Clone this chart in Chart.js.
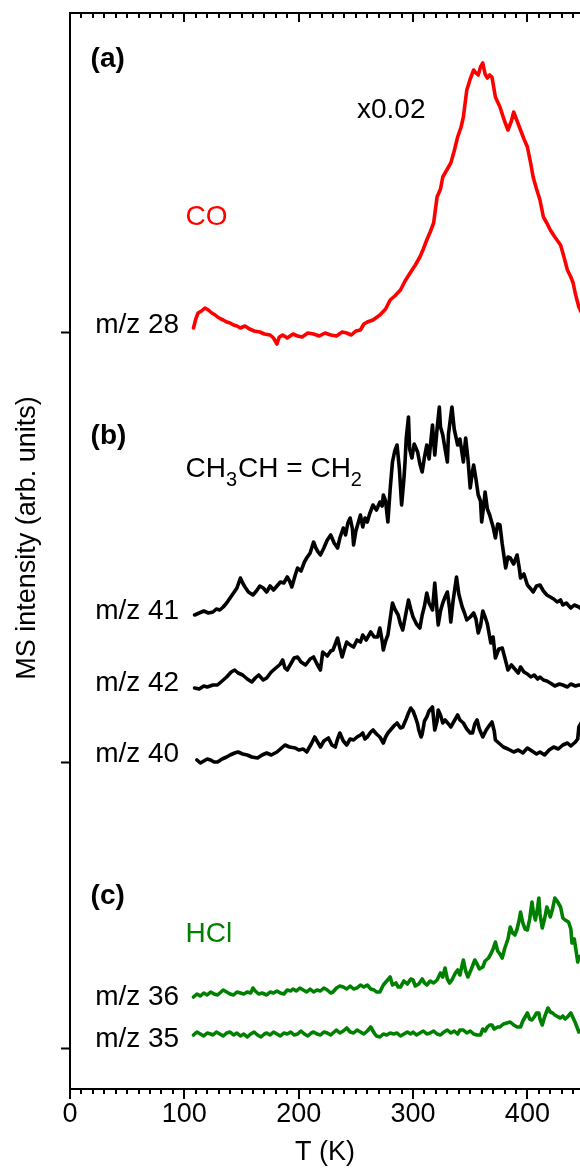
<!DOCTYPE html>
<html><head><meta charset="utf-8">
<script src="https://cdn.jsdelivr.net/npm/chart.js@4"></script>
<style>html,body{margin:0;padding:0;background:#fff}canvas{display:block}</style>
</head><body>
<canvas id="c" width="580" height="1172"></canvas>
<script>
// ---- data: [T (K), intensity (arb. units, stacked offsets included)] ----
const co28 = [[108,761],[110,770],[112,776],[115,778],[118,781],[121,779],[124,776],[127,774],[129,772],[132,770],[134,769],[137,767],[140,766],[143,764],[146,763],[149,761],[153,763],[157,760],[161,758],[166,757],[170,755],[175,754],[178,751],[181,745],[183,752],[186,754],[190,751],[195,755],[199,753],[203,752],[208,756],[213,755],[218,753],[223,756],[228,754],[233,753],[238,757],[242,756],[246,754],[250,758],[254,759],[257,765],[260,767],[265,769],[271,774],[276,780],[280,789],[284,793],[289,799],[293,808],[298,817],[302,824],[306,832],[309,840],[312,849],[315,857],[318,866],[321,892],[324,900],[326,912],[329,918],[333,926],[336,938],[339,952],[342,962],[344,972],[347,999],[350,1010],[353,1019],[355,1016],[357,1014],[359,1022],[361,1026],[363,1015],[365,1011],[367,1014],[369,1012],[372,992],[374,987],[376,982],[380,968],[383,959],[386,968],[388,977],[391,968],[394,959],[397,950],[400,942],[403,925],[405,912],[408,900],[411,889],[414,872],[417,866],[420,859],[424,852],[429,844],[432,832],[435,819],[438,812],[440,806],[442,795],[445,782],[447,777]];
const m41 = [[109,474],[113,476],[117,478],[121,476],[125,477],[128,480],[131,479],[134,482],[137,486],[140,491],[143,496],[146,501],[149,511],[151,506],[153,502],[156,497],[160,494],[163,498],[166,503],[169,501],[172,497],[175,503],[178,499],[181,503],[184,507],[187,506],[190,512],[192,508],[194,502],[197,514],[199,521],[202,518],[205,527],[207,531],[210,536],[213,547],[215,541],[217,537],[219,534],[222,541],[225,549],[228,554],[231,546],[234,541],[236,551],[239,561],[241,554],[243,566],[245,571],[247,560],[248,544],[250,558],[252,566],[254,574],[256,562],[258,571],[260,567],[262,575],[265,584],[268,579],[271,587],[273,583],[274,594],[276,588],[278,567],[280,600],[282,627],[284,638],[286,644],[288,621],[290,584],[292,610],[293,627],[294,650],[296,672],[297,640],[299,631],[301,645],[304,637],[306,625],[308,617],[310,632],[312,644],[314,630],[317,664],[318,648],[319,634],[321,660],[323,682],[324,662],[326,654],[328,640],[330,627],[331,655],[334,682],[336,660],[339,644],[341,650],[344,627],[346,651],[348,630],[350,601],[352,618],[353,624],[355,610],[357,594],[359,588],[360,567],[362,585],[363,597],[365,580],[367,574],[370,562],[372,551],[374,565],[376,564],[378,545],[381,521],[383,532],[385,531],[388,525],[391,534],[393,520],[394,511],[397,515],[400,504],[403,500],[405,497],[408,503],[411,504],[414,498],[417,494],[420,492],[423,490],[426,487],[429,489],[431,484],[434,486],[438,481],[441,484],[445,482],[447,480]];
const m42 = [[109,401],[113,400],[117,403],[120,402],[125,404],[129,404],[133,408],[137,412],[141,417],[144,419],[147,416],[151,414],[155,410],[159,407],[162,411],[165,414],[169,409],[172,411],[176,417],[181,422],[184,425],[186,429],[188,421],[190,419],[193,425],[196,431],[199,432],[202,427],[206,424],[210,430],[213,432],[216,425],[219,419],[221,437],[225,433],[228,438],[230,439],[232,445],[234,451],[236,441],[238,432],[240,440],[242,447],[245,444],[248,442],[251,449],[254,447],[256,454],[259,449],[263,457],[266,452],[269,452],[271,461],[273,448],[274,439],[276,448],[278,454],[280,470],[282,486],[284,480],[287,474],[289,465],[291,459],[293,471],[296,489],[298,480],[300,472],[303,465],[306,461],[308,474],[310,483],[312,496],[314,486],[317,479],[319,506],[321,478],[322,464],[324,478],[326,486],[328,492],[330,497],[332,480],[333,467],[335,488],[338,512],[340,495],[343,482],[345,476],[347,469],[350,472],[353,476],[355,470],[357,456],[359,463],[361,478],[363,472],[365,465],[368,446],[370,452],[372,431],[375,440],[378,441],[381,428],[383,419],[386,424],[389,420],[392,416],[394,422],[397,417],[400,415],[403,412],[406,414],[409,410],[411,412],[414,409],[417,408],[420,406],[424,403],[428,405],[431,404],[435,402],[438,405],[442,403],[445,404],[447,404]];
const m40 = [[111,329],[114,326],[117,328],[120,330],[123,329],[126,327],[129,327],[133,330],[137,332],[140,334],[144,336],[147,337],[151,335],[155,334],[159,332],[164,331],[168,334],[172,336],[176,334],[181,337],[184,340],[188,344],[192,342],[197,341],[200,339],[204,340],[207,337],[211,345],[214,352],[217,346],[219,342],[222,348],[226,351],[229,344],[232,342],[234,350],[236,356],[239,348],[242,344],[245,350],[248,349],[251,352],[254,354],[256,356],[258,350],[260,352],[263,357],[265,359],[268,355],[271,352],[274,346],[276,352],[278,356],[281,360],[284,364],[286,366],[289,361],[291,362],[294,370],[296,376],[298,381],[300,378],[302,372],[304,365],[305,359],[307,352],[308,355],[310,368],[312,372],[314,378],[317,382],[318,370],[319,359],[321,368],[322,379],[324,374],[326,366],[328,369],[331,365],[333,362],[336,368],[339,374],[341,369],[344,366],[347,360],[350,356],[352,356],[354,365],[356,369],[358,360],[361,352],[364,359],[367,364],[369,367],[371,358],[372,349],[375,346],[379,342],[383,340],[388,337],[392,339],[396,336],[400,341],[404,338],[408,335],[411,337],[415,334],[419,339],[423,342],[427,340],[431,344],[435,346],[438,343],[442,347],[444,350],[445,362],[447,366]];
const m36 = [[108,92],[111,95],[114,93],[117,96],[120,94],[123,97],[126,95],[129,94],[131,96],[134,99],[137,97],[140,95],[143,94],[146,97],[149,96],[152,95],[155,97],[158,96],[160,101],[162,98],[165,95],[168,96],[172,94],[175,97],[178,96],[181,98],[184,96],[187,95],[190,99],[193,98],[195,100],[198,98],[201,101],[204,99],[207,97],[210,100],[213,97],[216,99],[219,98],[222,101],[225,99],[228,96],[230,97],[233,101],[236,103],[239,102],[242,100],[245,103],[248,100],[251,101],[254,104],[257,102],[260,104],[263,100],[266,99],[268,97],[271,97],[274,104],[277,108],[280,112],[282,104],[285,106],[287,102],[289,102],[292,108],[295,105],[298,110],[300,109],[302,103],[305,105],[308,110],[310,106],[312,104],[315,108],[318,106],[321,109],[324,116],[326,112],[328,121],[330,110],[332,106],[334,109],[337,116],[339,119],[341,114],[344,129],[346,118],[348,112],[351,120],[354,129],[356,125],[358,120],[361,122],[363,128],[366,131],[368,135],[370,140],[372,147],[374,138],[376,135],[378,131],[380,140],[383,150],[385,162],[387,156],[389,154],[391,160],[393,170],[394,177],[396,166],[398,160],[400,159],[402,170],[404,187],[405,178],[407,169],[409,182],[410,191],[411,175],[413,161],[415,170],[417,182],[419,176],[420,172],[422,180],[424,191],[426,188],[428,184],[429,182],[431,171],[433,169],[436,167],[438,160],[439,146],[441,150],[443,135],[444,127],[445,132],[447,133]];
const m35 = [[108,54],[111,57],[114,55],[117,53],[120,56],[123,55],[125,54],[128,57],[131,55],[134,53],[137,56],[140,57],[143,54],[146,56],[149,53],[152,55],[155,52],[158,55],[161,57],[164,54],[167,52],[170,55],[172,56],[175,54],[178,57],[181,55],[184,53],[187,56],[190,55],[193,57],[196,54],[199,55],[202,58],[205,55],[208,53],[211,56],[213,57],[216,55],[219,54],[222,57],[225,56],[228,54],[230,56],[233,59],[236,56],[239,58],[242,61],[245,57],[248,56],[251,59],[254,57],[257,55],[260,58],[263,62],[266,56],[268,53],[271,52],[274,55],[277,54],[280,56],[283,55],[286,56],[289,53],[292,55],[295,57],[298,55],[300,57],[303,54],[306,56],[309,58],[312,55],[315,56],[318,58],[321,55],[324,54],[327,57],[330,59],[333,56],[336,58],[339,55],[341,59],[344,59],[347,56],[350,58],[353,55],[356,54],[359,54],[361,60],[363,58],[365,62],[367,64],[369,64],[371,60],[374,62],[376,62],[379,65],[382,66],[385,67],[388,64],[391,62],[394,62],[396,68],[398,72],[400,76],[402,70],[404,69],[406,72],[408,76],[410,76],[411,70],[413,64],[415,72],[418,81],[420,77],[422,76],[424,74],[427,72],[429,71],[431,73],[433,70],[435,72],[438,76],[440,71],[442,66],[444,60],[445,57],[447,59]];

const xTicks = [0, 100, 200, 300, 400];
const yTicks = [41, 327, 757];           // panel baselines
const xRange = [0, 446];
const yRange = [0, 1076];

// text annotations: [text, T, intensity, kind]
const notes = [
  ['(a)', 18, 1022, 'bold'],
  ['x0.02', 251, 971, 'black'],
  ['CO', 101, 864, 'red'],
  ['m/z 28', 22, 756, 'black'],
  ['(b)', 18, 645, 'bold'],
  ['m/z 41', 22, 470, 'black'],
  ['m/z 42', 22, 398, 'black'],
  ['m/z 40', 22, 327, 'black'],
  ['(c)', 18, 185, 'bold'],
  ['HCl', 101, 147, 'green'],
  ['m/z 36', 22, 84, 'black'],
  ['m/z 35', 22, 42, 'black']
];
const formulaPos = [101, 612];
const yTitle = 'MS intensity (arb. units)';

const FONT = '"Liberation Sans", Arial, sans-serif';
const RED = '#ff0000', GREEN = '#008000', BLACK = '#000000';

const toXY = arr => arr.map(p => ({x: p[0], y: p[1]}));
const ds = (arr, color) => ({data: toXY(arr), borderColor: color, borderWidth: 3.6, pointRadius: 0,
  tension: 0, borderJoinStyle: 'round', borderCapStyle: 'round', fill: false});

const deco = {
  id: 'deco',
  afterDraw(chart) {
    const {ctx, chartArea: a, scales: {x, y}} = chart;
    ctx.save();
    ctx.strokeStyle = BLACK; ctx.lineWidth = 2;
    ctx.beginPath(); ctx.moveTo(a.left - 1, a.top); ctx.lineTo(a.right, a.top); ctx.stroke();
    ctx.beginPath();
    for (let t = xRange[0]; t <= xRange[1]; t += 10) {
      const px = Math.round(x.getPixelForValue(t));
      const major = t % 100 === 0;
      ctx.moveTo(px, a.bottom); ctx.lineTo(px, a.bottom + (major ? 10 : 5));
      ctx.moveTo(px, a.top); ctx.lineTo(px, a.top + (major ? 9 : 5));
    }
    ctx.stroke();
    // annotations
    ctx.textBaseline = 'alphabetic'; ctx.textAlign = 'left';
    for (const [txt, t, v, kind] of notes) {
      ctx.font = (kind === 'bold' ? 'bold ' : '') + '28px ' + FONT;
      ctx.fillStyle = kind === 'red' ? RED : kind === 'green' ? GREEN : BLACK;
      ctx.fillText(txt, x.getPixelForValue(t), y.getPixelForValue(v));
    }
    // formula CH3CH = CH2
    let fx = x.getPixelForValue(formulaPos[0]);
    const fy = y.getPixelForValue(formulaPos[1]);
    ctx.fillStyle = BLACK;
    const parts = [['CH', 0], ['3', 1], ['CH = CH', 0], ['2', 1]];
    for (const [s, sub] of parts) {
      ctx.font = (sub ? '20px ' : '28px ') + FONT;
      ctx.fillText(s, fx, fy + (sub ? 9 : 0));
      fx += ctx.measureText(s).width + (sub ? 1 : 0);
    }
    // y title
    ctx.save();
    ctx.translate(28, (a.top + a.bottom) / 2 - 13);
    ctx.rotate(-Math.PI / 2);
    ctx.font = '27px ' + FONT; ctx.textAlign = 'center'; ctx.textBaseline = 'middle';
    ctx.fillText(yTitle, 0, 0);
    ctx.restore();
    ctx.restore();
  }
};

new Chart(document.getElementById('c'), {
  type: 'line',
  data: { datasets: [ds(co28, RED), ds(m41, BLACK), ds(m42, BLACK), ds(m40, BLACK), ds(m36, GREEN), ds(m35, GREEN)] },
  options: {
    responsive: false, devicePixelRatio: 1, animation: false,
    layout: { padding: { top: 13, right: 0, left: 0, bottom: 0 } },
    plugins: { legend: { display: false }, tooltip: { enabled: false } },
    scales: {
      x: {
        type: 'linear', min: xRange[0], max: xRange[1],
        afterBuildTicks: s => { s.ticks = xTicks.map(v => ({value: v})); },
        afterFit: s => { s.height = 83; },
        grid: { display: false, drawTicks: false },
        border: { display: true, color: BLACK, width: 2 },
        ticks: { color: BLACK, font: { family: FONT, size: 27 }, padding: 9, maxRotation: 0 },
        title: { display: true, text: 'T (K)', color: BLACK, font: { family: FONT, size: 27 }, padding: { top: 0, bottom: 3 } }
      },
      y: {
        type: 'linear', min: yRange[0], max: yRange[1],
        afterBuildTicks: s => { s.ticks = yTicks.map(v => ({value: v})); },
        afterFit: s => { s.width = 70; },
        grid: { display: true, drawOnChartArea: false, drawTicks: true, tickLength: 9, tickWidth: 2, tickColor: BLACK },
        border: { display: true, color: BLACK, width: 2 },
        ticks: { display: false },
        title: { display: false }
      }
    }
  },
  plugins: [deco]
});
</script>
</body></html>
